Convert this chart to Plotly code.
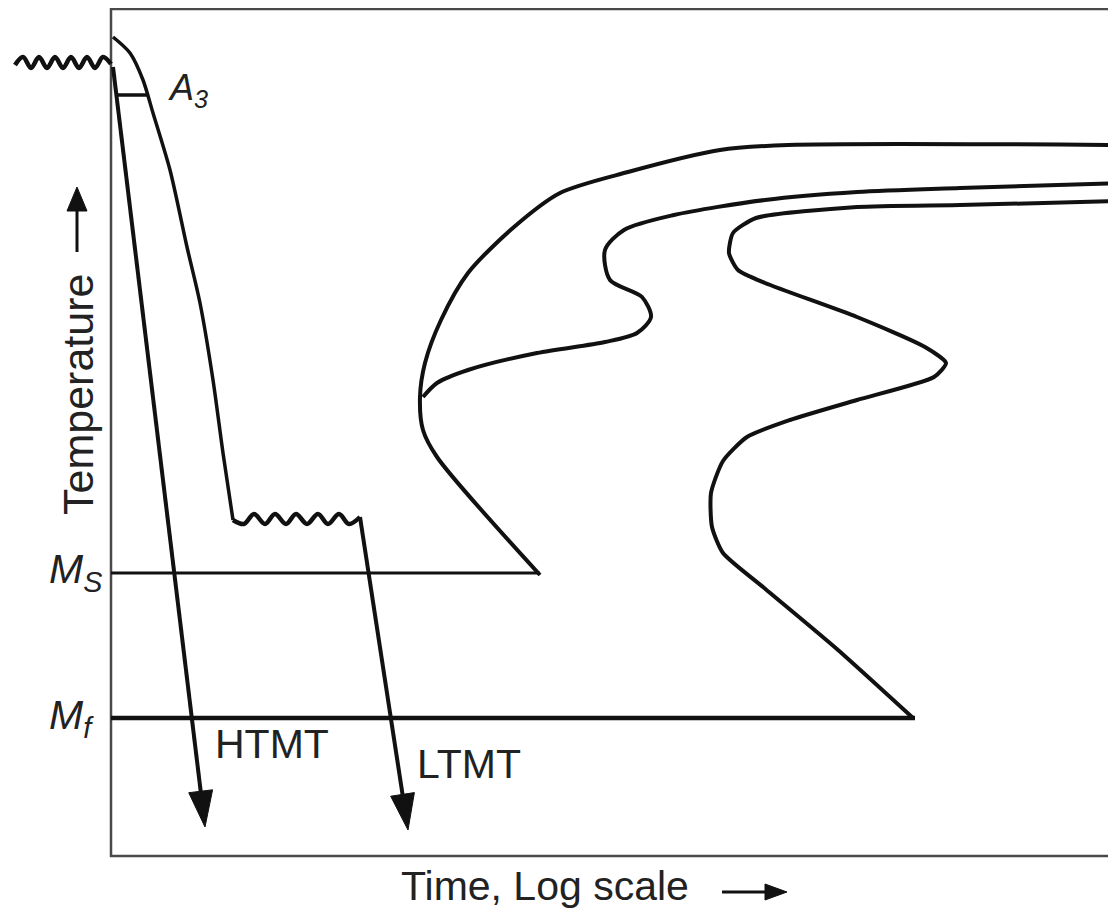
import plotly.graph_objects as go
import math

# ---- data (arbitrary schematic units: time on log scale, temperature) ----
frame_t = [1010, 0, 0, 1010]
frame_T = [847, 847, 0, 0]

aust_wave_t = [-96, -88, -80, -72, -64, -56, -48, -40, -32, -24, -16, -8, 0]
aust_wave_T = [791, 799, 788, 799, 788, 799, 788, 799, 788, 799, 788, 799, 792]

cool_t = [2, 19, 32, 42, 59, 76, 89, 102, 112, 122]
cool_T = [819, 803, 776, 743, 686, 609, 553, 476, 403, 336]

deform_wave_t = [122, 133, 143, 154, 164, 175, 185, 196, 207, 217, 228, 238, 249]
deform_wave_T = [336, 332, 342, 332, 342, 332, 342, 332, 342, 332, 342, 332, 339]

a3_t = [4, 36]
a3_T = [761, 761]

htmt_start = (2, 789)
htmt_tip = (94, 29)
ltmt_start = (249, 339)
ltmt_tip = (297, 26)

ms_t = [0, 429]
ms_T = [283, 283]
mf_t = [0, 804]
mf_T = [138, 138]

start_t = [1012, 677, 609, 517, 449, 403, 357, 330, 314, 309, 312, 326, 429]
start_T = [711, 711, 706, 684, 663, 629, 583, 536, 493, 459, 426, 399, 281]

mid_t = [1012, 849, 746, 654, 563, 513, 494, 499, 531, 540, 526, 494, 426, 357, 326, 312]
mid_T = [673, 668, 664, 656, 641, 626, 606, 576, 559, 539, 523, 514, 503, 486, 473, 459]

fin_t = [1012, 849, 746, 645, 622, 618, 627, 654, 746, 814, 835, 823, 746, 679, 636, 612, 600, 601, 612, 652, 727, 802]
fin_T = [655, 651, 649, 638, 623, 603, 586, 573, 539, 509, 493, 479, 456, 436, 419, 395, 363, 329, 303, 269, 206, 138]

temp_arrow = ((-34, 604), (-34, 669))
time_arrow = ((611, -36), (676, -36))

BLACK = "#111111"
FRAME = "#4a4a4a"
FONT = "Liberation Sans, Arial, sans-serif"

fig = go.Figure()

def line(t, T, width=4, color=BLACK, shape="linear", smoothing=1.0):
    fig.add_trace(go.Scatter(x=t, y=T, mode="lines",
                             line=dict(color=color, width=width, shape=shape,
                                       smoothing=smoothing),
                             hoverinfo="skip"))

def arrow(start, tip, head_len, half_w, width=4):
    dx, dy = tip[0] - start[0], tip[1] - start[1]
    d = math.hypot(dx, dy)
    ux, uy = dx / d, dy / d
    bx, by = tip[0] - ux * head_len * 0.9, tip[1] - uy * head_len * 0.9
    line([start[0], bx], [start[1], by], width=width)
    cx, cy = tip[0] - ux * head_len, tip[1] - uy * head_len
    px, py = -uy, ux
    fig.add_trace(go.Scatter(
        x=[tip[0], cx + px * half_w, cx - px * half_w, tip[0]],
        y=[tip[1], cy + py * half_w, cy - py * half_w, tip[1]],
        mode="lines", fill="toself", fillcolor=BLACK,
        line=dict(color=BLACK, width=1), hoverinfo="skip"))

# frame
line(frame_t, frame_T, width=2.5, color=FRAME)

# Ms / Mf
line(ms_t, ms_T, width=3)
line(mf_t, mf_T, width=4.5)

# transformation curves
line(start_t, start_T, width=4, shape="spline", smoothing=0.8)
line(mid_t, mid_T, width=4, shape="spline", smoothing=0.8)
line(fin_t, fin_T, width=4, shape="spline", smoothing=0.6)

# process paths
line(aust_wave_t, aust_wave_T, width=4.5, shape="spline", smoothing=1.0)
line(cool_t, cool_T, width=3.5, shape="spline", smoothing=0.8)
line(deform_wave_t, deform_wave_T, width=4.5, shape="spline", smoothing=1.0)
line(a3_t, a3_T, width=3.5)
arrow(htmt_start, htmt_tip, 36, 12, width=4)
arrow(ltmt_start, ltmt_tip, 36, 12, width=4)

# axis-title arrows
arrow(temp_arrow[0], temp_arrow[1], 24, 10, width=3)
arrow(time_arrow[0], time_arrow[1], 22, 8, width=3)

def label(text, t, T, size=40, xanchor="left", angle=0):
    fig.add_annotation(x=t, y=T, text=text, showarrow=False, xanchor=xanchor,
                       yanchor="middle", textangle=angle,
                       font=dict(family=FONT, size=size, color="#222222"))

label("HTMT", 102, 112, size=41)
label("LTMT", 304, 92, size=41)
label("<i>M<sub>S</sub></i>", -64, 284, size=41)
label("<i>M<sub>f</sub></i>", -64, 138, size=41)
label("<i>A<sub>3</sub></i>", 55, 766, size=36)
label("Temperature", -33, 461, size=43, xanchor="center", angle=-90)
label("Time, Log scale", 434, -30, size=41, xanchor="center")

# the page body adds an 8 px offset, so the figure is 8 px smaller and the
# axis ranges start 8 units later
fig.update_layout(
    width=1108, height=909,
    margin=dict(l=0, r=0, t=0, b=0),
    paper_bgcolor="white", plot_bgcolor="white",
    showlegend=False,
    xaxis=dict(range=[-103, 1005], visible=False, fixedrange=True),
    yaxis=dict(range=[-61, 848], visible=False, fixedrange=True),
)

fig.write_html("out.html")
